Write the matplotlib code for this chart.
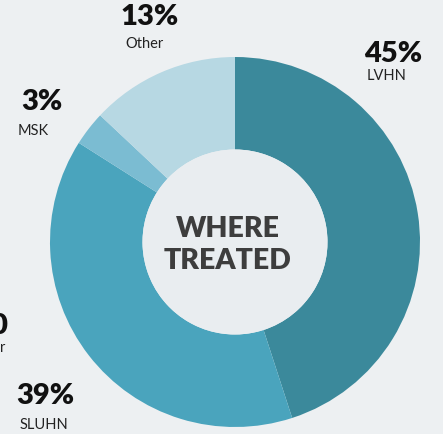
import matplotlib
matplotlib.use("Agg")
import matplotlib.pyplot as plt
from matplotlib.patches import Circle

plt.rcParams['font.family'] = ['Lato', 'DejaVu Sans']

categories = ["LVHN", "SLUHN", "MSK", "Other"]
values = [45, 39, 3, 13]
labels_pct = ["45%", "39%", "3%", "13%"]
colors = ["#3b899b", "#4aa4bd", "#7bbcd2", "#b7d8e3"]
center_title = "WHERE\nTREATED"

W, H = 443, 434
fig = plt.figure(figsize=(W / 100, H / 100), dpi=100)
fig.patch.set_facecolor("#edf0f2")
ax = fig.add_axes([0, 0, 1, 1])
ax.set_facecolor("#edf0f2")

cx, cy, R = 235, H - 242, 185
ax.pie(values, colors=colors, startangle=90, counterclock=False,
       center=(cx, cy), radius=R,
       wedgeprops=dict(width=R * 0.5, linewidth=0), frame=True)
ax.add_patch(Circle((cx, cy), R * 0.5, facecolor="#e9edf0", edgecolor="none", zorder=3))

ax.set_xlim(0, W)
ax.set_ylim(0, H)
ax.set_aspect("equal")
ax.axis("off")

ax.text(228, H - 245, center_title, ha="center", va="center", fontsize=20.5,
        fontweight="heavy", color="#3d3d3d", linespacing=1.3, zorder=4)

# label positions (pixel coords from top-left)
pos = {"LVHN": (364, 54, 367, 76), "Other": (121, 17, 125, 44),
       "MSK": (21, 102, 18, 131), "SLUHN": (16, 396, 20, 425)}
for cat, pct in zip(categories, labels_pct):
    px, py, lx, ly = pos[cat]
    ax.text(px, H - py, pct, ha="left", va="center", fontsize=21,
            fontweight="heavy", color="#111111")
    ax.text(lx, H - ly, cat, ha="left", va="center", fontsize=10.5, color="#222222")

# partially cut-off label at left edge
ax.text(7, H - 326, "0", ha="right", va="center", fontsize=21, fontweight="heavy", color="#111111")
ax.text(5, H - 348, "r", ha="right", va="center", fontsize=10.5, color="#222222")

fig.savefig("out.png", dpi=100, facecolor=fig.get_facecolor())
